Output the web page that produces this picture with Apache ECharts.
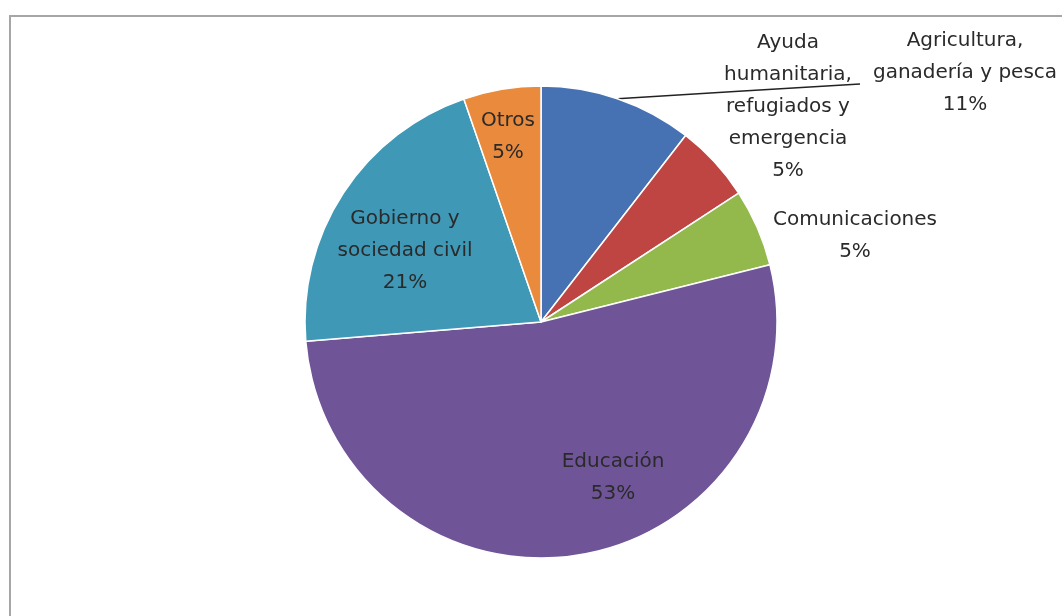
<!DOCTYPE html>
<html>
<head>
<meta charset="utf-8">
<script src="https://cdn.jsdelivr.net/npm/echarts@6/dist/echarts.min.js"></script>
<style>
html,body{margin:0;padding:0;background:#fff;}
#chart{width:1062px;height:616px;}
</style>
</head>
<body>
<div id="chart"></div>
<script>
// ---- data ----
const categories = [
  'Agricultura,\nganadería y pesca',
  'Ayuda\nhumanitaria,\nrefugiados y\nemergencia',
  'Comunicaciones',
  'Educación',
  'Gobierno y\nsociedad civil',
  'Otros'
];
const values = [10.5, 5.3, 5.3, 52.6, 21.0, 5.3];
const colors = ['#4672B4', '#BE4542', '#93B84B', '#6F5597', '#4098B7', '#EA8A3C'];

// ---- layout (label block centres, px) ----
const labelCentres = [[965, 73], [788, 107], [855, 236], [613, 478], [405, 251], [508, 137]];
const leaderEnd = [860, 84];

const total = values.reduce((a, b) => a + b, 0);
const chart = echarts.init(document.getElementById('chart'));
chart.setOption({
  animation: false,
  backgroundColor: '#fff',
  graphic: [{
    type: 'rect',
    shape: { x: 10, y: 16, width: 1100, height: 700 },
    style: { fill: 'none', stroke: '#a6a6a6', lineWidth: 2 },
    silent: true
  }],
  series: [{
    type: 'pie',
    center: [541, 322],
    radius: 236,
    startAngle: 90,
    clockwise: true,
    avoidLabelOverlap: false,
    itemStyle: { borderColor: '#ffffff', borderWidth: 1.5 },
    label: {
      show: true,
      position: 'outside',
      fontFamily: 'DejaVu Sans',
      fontSize: 20,
      lineHeight: 32,
      color: '#2a2a2a',
      align: 'center',
      formatter: p => p.name + '\n' + Math.round(p.value / total * 100) + '%'
    },
    labelLine: { show: false, lineStyle: { color: '#222', width: 1.5 }, length: 10, length2: 10 },
    labelLayout: function (params) {
      const c = labelCentres[params.dataIndex];
      const out = { x: c[0], y: c[1], align: 'center', verticalAlign: 'middle' };
      if (params.dataIndex === 0 && params.labelLinePoints) {
        const s = params.labelLinePoints[0];
        out.labelLinePoints = [s, [(s[0] + leaderEnd[0]) / 2, (s[1] + leaderEnd[1]) / 2], leaderEnd];
      }
      return out;
    },
    data: categories.map((n, i) => ({
      name: n,
      value: values[i],
      itemStyle: { color: colors[i] },
      labelLine: { show: i === 0 }
    }))
  }]
});
</script>
</body>
</html>
